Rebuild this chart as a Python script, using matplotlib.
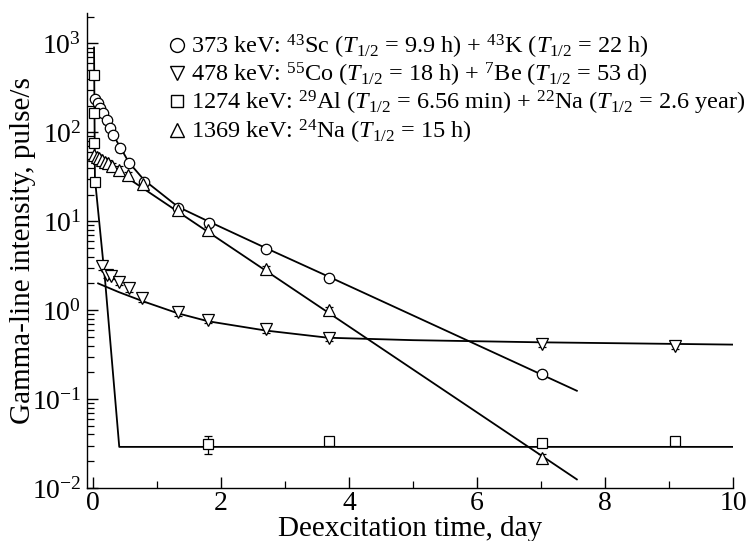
import numpy as np
import matplotlib
matplotlib.use("Agg")
import matplotlib.pyplot as plt
from matplotlib.lines import Line2D
from matplotlib.ticker import LogLocator, MultipleLocator, LogFormatterMathtext, NullFormatter

plt.rcParams['font.family'] = ['Liberation Serif', 'DejaVu Serif']
plt.rcParams['mathtext.fontset'] = 'custom'
plt.rcParams['mathtext.rm'] = 'Liberation Serif'
plt.rcParams['mathtext.it'] = 'Liberation Serif:italic'
plt.rcParams['mathtext.bf'] = 'Liberation Serif:bold'

# ---- data: 373 keV (43Sc + 43K), circles ----
sc_t = [0.03, 0.08, 0.11, 0.16, 0.22, 0.27, 0.31, 0.42, 0.56, 0.80, 1.33, 1.81, 2.70, 3.69, 7.02]
sc_y = [240, 215, 190, 165, 136, 112, 93, 66, 45, 28, 14, 9.5, 4.9, 2.3, 0.19]
sc_fit_t = [0.05, 0.31, 0.56, 0.80, 1.33, 1.80, 2.70, 3.70, 7.00, 7.56]
sc_fit_y = [215, 95, 46, 29, 14.5, 10.0, 5.0, 2.35, 0.19, 0.124]

# ---- data: 478 keV (55Co + 7Be), down triangles ----
co_t = [0.14, 0.22, 0.28, 0.41, 0.56, 0.77, 1.33, 1.80, 2.70, 3.69, 7.02, 9.10]
co_y = [3.1, 2.5, 2.45, 2.1, 1.77, 1.37, 0.95, 0.78, 0.61, 0.49, 0.42, 0.40]
co_fit_t = [0.08, 0.40, 0.78, 1.33, 1.80, 2.70, 3.67, 5.00, 7.00, 10.0]
co_fit_y = [2.0, 1.6, 1.26, 0.92, 0.75, 0.59, 0.49, 0.46, 0.435, 0.41]

# ---- data: 1274 keV (29Al + 22Na), squares ----
al_t = [0.01, 0.015, 0.02, 0.03, 1.80, 3.69, 7.02, 9.10]
al_y = [440, 165, 75, 28, 0.031, 0.034, 0.032, 0.034]
al_err = [40, 15, 7, 3, 0.007, 0.003, 0.002, 0.002]
al_fit_t = [0.016, 0.03, 0.19, 0.41, 10.0]
al_fit_y = [900, 30, 2.1, 0.029, 0.029]

# ---- data: 1369 keV (24Na), up triangles ----
na_t = [0.02, 0.06, 0.10, 0.14, 0.19, 0.24, 0.30, 0.40, 0.55, 0.78, 1.33, 1.80, 2.70, 3.69, 7.02]
na_y = [55, 53, 51, 49, 47, 45, 42, 38, 33, 26, 13.5, 8.0, 2.9, 1.0, 0.022]
na_fit_t = [0.0, 7.56]
na_fit_y = [56, 0.0125]

labels = [
    r"373 keV: $^{43}$Sc ($T_{1/2}$ = 9.9 h) + $^{43}$K ($T_{1/2}$ = 22 h)",
    r"478 keV: $^{55}$Co ($T_{1/2}$ = 18 h) + $^{7}$Be ($T_{1/2}$ = 53 d)",
    r"1274 keV: $^{29}$Al ($T_{1/2}$ = 6.56 min) + $^{22}$Na ($T_{1/2}$ = 2.6 year)",
    r"1369 keV: $^{24}$Na ($T_{1/2}$ = 15 h)",
]

fig = plt.figure(figsize=(7.51, 5.41), dpi=100)
ax = fig.add_axes([87/751, 53/541, (733-87)/751, (488-13)/541])

lw = 1.3
ax.plot(sc_fit_t, sc_fit_y, color='k', lw=lw)
ax.plot(co_fit_t, co_fit_y, color='k', lw=lw)
ax.plot(al_fit_t, al_fit_y, color='k', lw=lw)
ax.plot(na_fit_t, na_fit_y, color='k', lw=lw)

ekw = dict(ls='none', color='k', mfc='white', mec='k', mew=0.9, ecolor='k',
           elinewidth=0.9, capsize=3, capthick=0.9)
ax.errorbar(sc_t, sc_y, yerr=np.array(sc_y)*0.08, marker='o', ms=7.5, **ekw)
ax.errorbar(co_t, co_y, yerr=np.array(co_y)*0.09, marker='v', ms=8, **ekw)
ax.errorbar(na_t, na_y, yerr=np.array(na_y)*0.09, marker='^', ms=8, **ekw)
ax.errorbar(al_t, al_y, yerr=al_err, marker='s', ms=6.5, **ekw)

ax.set_yscale('log')
ax.set_xlim(-0.094, 10.0)
ax.set_ylim(0.01, 2200)

ax.spines['top'].set_visible(False)
ax.spines['right'].set_visible(False)
for s in ('left', 'bottom'):
    ax.spines[s].set_linewidth(1.0)

ax.xaxis.set_major_locator(MultipleLocator(2))
ax.xaxis.set_minor_locator(MultipleLocator(1))
ax.yaxis.set_major_locator(LogLocator(base=10, numticks=20))
ax.yaxis.set_minor_locator(LogLocator(base=10, subs=np.arange(2, 10), numticks=20))
ax.yaxis.set_major_formatter(LogFormatterMathtext())
ax.yaxis.set_minor_formatter(NullFormatter())
ax.tick_params(which='both', direction='in', top=False, right=False, labelsize=20)
ax.tick_params(which='major', length=8, width=1.0)
ax.tick_params(which='minor', length=5, width=0.9)
ax.tick_params(axis='x', pad=2)
ax.tick_params(axis='y', pad=4)

ax.set_xlabel("Deexcitation time, day", fontsize=21, labelpad=0)
ax.set_ylabel("Gamma-line intensity, pulse/s", fontsize=21, labelpad=-3)

handles = [
    Line2D([], [], ls='none', marker='o', ms=10, mfc='white', mec='k', mew=1.0),
    Line2D([], [], ls='none', marker='v', ms=10, mfc='white', mec='k', mew=1.0),
    Line2D([], [], ls='none', marker='s', ms=8, mfc='white', mec='k', mew=1.0),
    Line2D([], [], ls='none', marker='^', ms=10, mfc='white', mec='k', mew=1.0),
]
ax.legend(handles, labels, loc='upper left', bbox_to_anchor=(170/751, 1-33/541),
          bbox_transform=fig.transFigure, frameon=False, fontsize=17.5,
          handlelength=0.6, handletextpad=0.25, labelspacing=0.0, borderpad=0,
          borderaxespad=0)

fig.savefig("out.png", dpi=100)
